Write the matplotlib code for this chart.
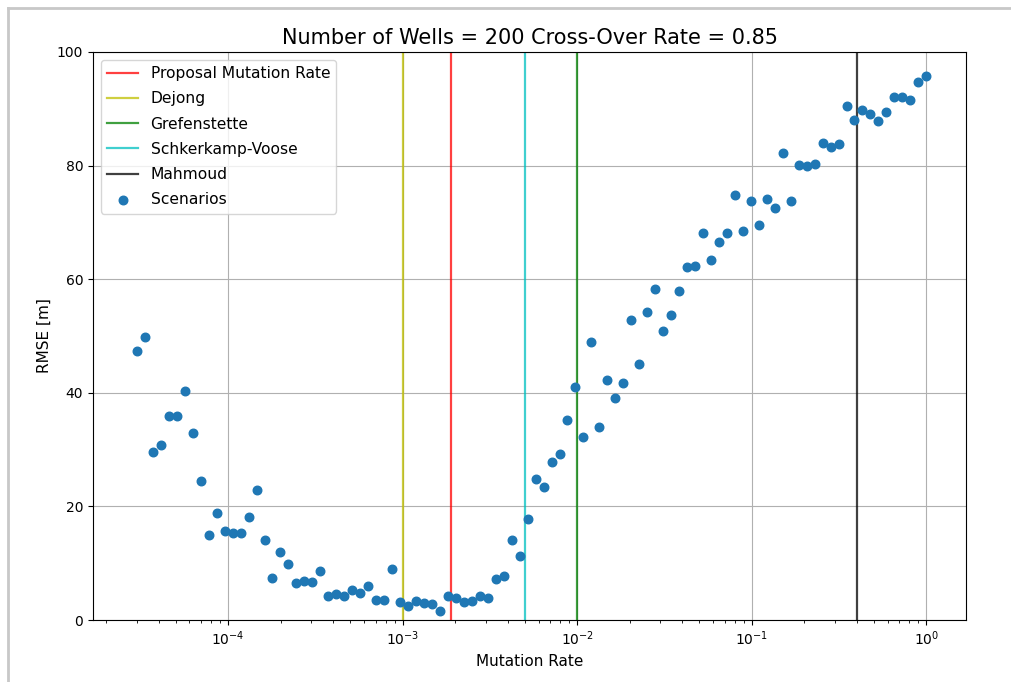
import numpy as np
import matplotlib
matplotlib.use("Agg")
import matplotlib.pyplot as plt
from matplotlib.lines import Line2D

# Scenario grid: 100 mutation rates, log-spaced from 3e-5 to 1
mutation_rates = np.logspace(np.log10(3e-5), 0, 100)

rmse = [
    47.4, 49.9, 29.6, 30.8, 35.9, 36.0, 40.4, 32.9, 24.4, 14.9,
    18.9, 15.7, 15.4, 15.4, 18.1, 22.8, 14.0, 7.4, 12.0, 9.9,
    6.6, 6.9, 6.7, 8.7, 4.3, 4.6, 4.2, 5.3, 4.8, 6.0,
    3.6, 3.6, 9.0, 3.2, 2.5, 3.3, 3.0, 2.8, 1.6, 4.3,
    3.9, 3.2, 3.4, 4.2, 3.9, 7.3, 7.8, 14.0, 11.3, 17.7,
    24.8, 23.5, 27.8, 29.2, 35.2, 41.1, 32.2, 48.9, 34.0, 42.3,
    39.0, 41.8, 52.8, 45.0, 54.2, 58.3, 50.8, 53.7, 58.0, 62.2,
    62.4, 68.2, 63.4, 66.6, 68.2, 74.9, 68.4, 73.7, 69.6, 74.2,
    72.5, 82.2, 73.7, 80.1, 79.9, 80.3, 83.9, 83.3, 83.8, 90.5,
    88.1, 89.8, 89.1, 87.9, 89.4, 92.0, 92.1, 91.5, 94.8, 95.8,
]

ref_labels = ["Proposal Mutation Rate", "Dejong", "Grefenstette",
              "Schkerkamp-Voose", "Mahmoud"]
ref_rates = [0.0019, 0.001, 0.01, 0.005, 0.4]
ref_colors = ["r", "y", "g", "c", "k"]

fig = plt.figure(figsize=(10.11, 6.82), dpi=100)
ax = fig.add_axes([0.092, 0.0909, 0.8635, 0.8329])

for lab, r, c in zip(ref_labels, ref_rates, ref_colors):
    ax.axvline(r, color=c, lw=1.6, alpha=0.75, label=lab)

ax.scatter(mutation_rates, rmse, s=38, color="#1f77b4", label="Scenarios", zorder=3)

ax.set_xscale("log")
ax.set_xlim(1.68e-5, 1.69)
ax.set_ylim(0, 100)
ax.grid(True)
ax.set_xlabel("Mutation Rate", fontsize=11)
ax.set_ylabel("RMSE [m]", fontsize=11)
ax.set_title("Number of Wells = 200 Cross-Over Rate = 0.85", fontsize=15)
ax.legend(loc="upper left", fontsize=11.2, labelspacing=0.66)

# light frame of the notebook output cell
fig.add_artist(Line2D([0.008, 0.008], [0, 0.988], transform=fig.transFigure,
                      color="#c8c8c8", lw=2))
fig.add_artist(Line2D([0.008, 1.0], [0.988, 0.988], transform=fig.transFigure,
                      color="#c8c8c8", lw=2))

fig.savefig("out.png", dpi=100)
